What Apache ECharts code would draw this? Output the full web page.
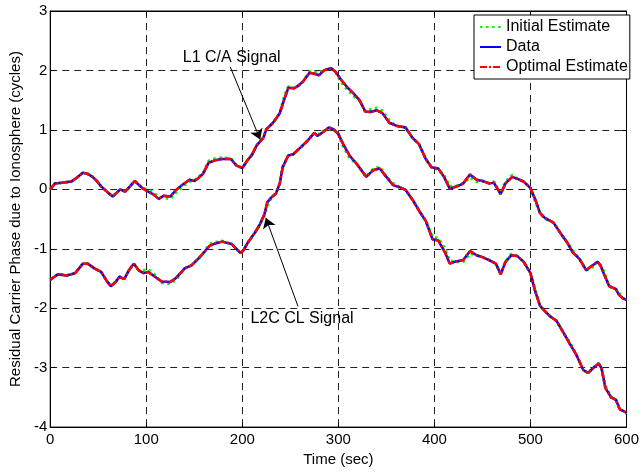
<!DOCTYPE html>
<html>
<head>
<meta charset="utf-8">
<script src="https://cdn.jsdelivr.net/npm/echarts@6/dist/echarts.min.js"></script>
<style>
  html, body { margin: 0; padding: 0; background: #fff; }
  #chart { width: 642px; height: 472px; }
</style>
</head>
<body>
<div id="chart"></div>
<script>
// Residual carrier phase (cycles) vs time (sec), L1 C/A and L2C CL signals
const l1Time = [0,5,12,22,28,34,39,44,48,53,59,65,69,73,78,83,88,92,96,101,107,113,118,125,131,138,145,150,155,159,165,172,179,188,194,200,205,210,215,222,225,232,239,244,248,254,258,263,270,276,280,285,292,297,302,309,316,322,328,333,340,346,353,360,370,377,384,391,397,404,410,416,425,430,437,444,450,457,462,469,474,481,486,493,500,505,510,515,524,531,538,544,551,558,563,570,573,577,582,589,592,596,600];
const l1Data = [0.00,0.10,0.11,0.13,0.20,0.28,0.26,0.21,0.15,0.05,-0.04,-0.12,-0.06,0.00,-0.04,0.05,0.14,0.08,0.02,-0.03,-0.08,-0.16,-0.11,-0.12,-0.01,0.08,0.16,0.14,0.20,0.26,0.45,0.49,0.51,0.51,0.40,0.36,0.48,0.58,0.74,0.87,1.01,1.12,1.28,1.53,1.71,1.70,1.74,1.81,1.96,1.94,1.92,2.00,2.04,1.98,1.86,1.72,1.61,1.50,1.31,1.30,1.33,1.28,1.12,1.07,1.04,0.87,0.76,0.51,0.37,0.35,0.21,0.01,0.06,0.10,0.25,0.16,0.14,0.10,0.11,-0.08,0.10,0.21,0.18,0.13,0.02,-0.17,-0.40,-0.48,-0.56,-0.73,-0.89,-1.06,-1.17,-1.36,-1.30,-1.22,-1.28,-1.44,-1.63,-1.68,-1.77,-1.83,-1.86];
const l1Initial = [0.00,0.10,0.11,0.13,0.20,0.28,0.26,0.21,0.15,0.05,-0.04,-0.12,-0.06,0.00,-0.04,0.05,0.14,0.08,0.02,0.00,-0.05,-0.13,-0.14,-0.16,-0.05,0.05,0.13,0.14,0.22,0.26,0.48,0.52,0.53,0.52,0.40,0.36,0.48,0.58,0.74,0.87,1.01,1.12,1.28,1.58,1.73,1.70,1.74,1.81,1.98,1.97,1.96,2.00,2.04,1.98,1.82,1.68,1.57,1.50,1.31,1.34,1.37,1.32,1.16,1.07,1.04,0.87,0.76,0.51,0.37,0.33,0.24,0.05,0.06,0.10,0.20,0.13,0.14,0.10,0.13,-0.08,0.13,0.24,0.18,0.13,0.02,-0.20,-0.40,-0.50,-0.56,-0.73,-0.89,-1.03,-1.17,-1.36,-1.33,-1.22,-1.28,-1.40,-1.63,-1.68,-1.74,-1.83,-1.88];

const l2Time = [0,8,17,26,34,39,46,53,58,63,68,72,77,82,87,92,97,102,109,116,125,131,140,147,154,159,166,172,179,189,198,201,206,213,218,223,226,230,235,239,242,246,248,253,261,268,275,278,283,290,295,300,305,312,319,329,336,343,350,357,363,370,377,384,391,398,404,411,416,421,430,437,444,450,457,464,469,474,480,486,493,500,505,510,515,520,527,534,541,548,555,560,565,571,574,578,584,589,593,597,600];
const l2Data = [-1.52,-1.43,-1.45,-1.41,-1.25,-1.25,-1.33,-1.39,-1.52,-1.63,-1.56,-1.47,-1.51,-1.36,-1.25,-1.36,-1.41,-1.39,-1.47,-1.55,-1.56,-1.49,-1.33,-1.28,-1.17,-1.08,-0.95,-0.91,-0.88,-0.92,-1.07,-1.03,-0.89,-0.73,-0.60,-0.42,-0.22,-0.14,-0.07,0.10,0.37,0.51,0.57,0.59,0.71,0.82,0.95,0.90,0.95,1.04,1.01,0.93,0.76,0.56,0.43,0.21,0.32,0.35,0.21,0.07,0.04,-0.01,-0.17,-0.36,-0.53,-0.84,-0.86,-1.06,-1.25,-1.22,-1.19,-1.04,-1.11,-1.14,-1.19,-1.25,-1.43,-1.22,-1.11,-1.12,-1.22,-1.41,-1.72,-1.96,-2.05,-2.13,-2.21,-2.40,-2.60,-2.79,-3.04,-3.09,-3.01,-2.93,-3.01,-3.34,-3.50,-3.54,-3.70,-3.73,-3.76];
const l2Initial = [-1.52,-1.43,-1.45,-1.41,-1.25,-1.25,-1.33,-1.39,-1.52,-1.63,-1.56,-1.47,-1.51,-1.36,-1.25,-1.36,-1.36,-1.35,-1.44,-1.57,-1.59,-1.52,-1.33,-1.28,-1.17,-1.08,-0.92,-0.89,-0.87,-0.92,-1.07,-1.03,-0.89,-0.73,-0.60,-0.44,-0.28,-0.14,-0.07,0.10,0.37,0.51,0.57,0.59,0.71,0.82,0.95,0.90,0.97,1.02,1.01,0.93,0.72,0.52,0.43,0.21,0.34,0.38,0.21,0.10,0.04,-0.01,-0.17,-0.36,-0.53,-0.80,-0.82,-1.00,-1.20,-1.22,-1.22,-1.08,-1.11,-1.14,-1.19,-1.25,-1.43,-1.22,-1.09,-1.12,-1.22,-1.41,-1.68,-1.96,-2.05,-2.13,-2.21,-2.40,-2.57,-2.79,-3.04,-3.09,-3.01,-2.93,-3.01,-3.30,-3.50,-3.54,-3.70,-3.73,-3.78];

const xTicks = { min: 0, max: 600, step: 100 };
const yTicks = { min: -4, max: 3, step: 1 };

// Annotation anchors in data units (time, cycles)
const l1Label = { text: 'L1 C/A Signal', at: [137.5, 2.22], from: [187.4, 2.06], to: [218.6, 0.84] };
const l2Label = { text: 'L2C CL Signal', at: [207.9, -2.18], from: [258.0, -1.97], to: [224.5, -0.48] };

const FONT = '"Liberation Sans", Arial, Helvetica, sans-serif';
const pairs = (t, v) => t.map((x, i) => [x, v[i]]);

const initialStyle = { color: '#00ff00', width: 3, type: [2.5, 3.5] };
const dataStyle = { color: '#0000ff', width: 2.5, type: 'solid' };
const optimalStyle = { color: '#ff0000', width: 2.5, type: [7, 2, 2, 2] };

function curve(name, points, style) {
  return {
    name: name,
    type: 'line',
    data: points,
    symbol: 'none',
    showSymbol: false,
    lineStyle: style,
    itemStyle: { color: style.color },
    emphasis: { disabled: true },
    silent: true
  };
}

const chart = echarts.init(document.getElementById('chart'), null, { renderer: 'canvas' });

const dashedGrid = { show: true, lineStyle: { color: '#222', width: 1, type: [7, 5] } };
const frameLine = { show: true, onZero: false, lineStyle: { color: '#000', width: 1 } };
const innerTick = { show: true, inside: true, length: 5, lineStyle: { color: '#000' } };

chart.setOption({
  animation: false,
  backgroundColor: '#fff',
  textStyle: { fontFamily: FONT },
  grid: { left: 45, top: 11, right: 11, bottom: 37, show: true, borderColor: '#000', borderWidth: 1, containLabel: false },
  legend: {
    data: ['Initial Estimate', 'Data', 'Optimal Estimate'],
    orient: 'vertical',
    left: 474,
    top: 15,
    padding: [4, 2, 4, 5],
    itemGap: 4,
    itemWidth: 21,
    itemHeight: 14,
    backgroundColor: '#fff',
    borderColor: '#000',
    borderWidth: 1,
    borderRadius: 0,
    selectedMode: false,
    itemStyle: { opacity: 0, borderWidth: 0 },
    textStyle: { fontFamily: FONT, fontSize: 16, color: '#000' }
  },
  xAxis: [{
    type: 'value',
    min: xTicks.min, max: xTicks.max, interval: xTicks.step,
    name: 'Time (sec)', nameLocation: 'middle', nameGap: 19,
    nameTextStyle: { fontFamily: FONT, fontSize: 15, color: '#000' },
    axisLine: frameLine,
    axisTick: innerTick,
    axisLabel: { fontFamily: FONT, fontSize: 15, color: '#000', margin: 5 },
    splitLine: dashedGrid
  }, {
    type: 'value', position: 'top',
    min: xTicks.min, max: xTicks.max, interval: xTicks.step,
    axisLine: frameLine,
    axisTick: innerTick,
    axisLabel: { show: false }, splitLine: { show: false }
  }],
  yAxis: [{
    type: 'value',
    min: yTicks.min, max: yTicks.max, interval: yTicks.step,
    name: 'Residual Carrier Phase due to Ionosphere (cycles)', nameLocation: 'middle', nameGap: 22,
    nameTextStyle: { fontFamily: FONT, fontSize: 15, color: '#000' },
    axisLine: frameLine,
    axisTick: innerTick,
    axisLabel: { fontFamily: FONT, fontSize: 15, color: '#000', margin: 3 },
    splitLine: dashedGrid
  }, {
    type: 'value', position: 'right',
    min: yTicks.min, max: yTicks.max, interval: yTicks.step,
    axisLine: frameLine,
    axisTick: innerTick,
    axisLabel: { show: false }, splitLine: { show: false }
  }],
  series: [
    curve('Initial Estimate', pairs(l1Time, l1Initial), initialStyle),
    curve('Initial Estimate', pairs(l2Time, l2Initial), initialStyle),
    curve('Data', pairs(l1Time, l1Data), dataStyle),
    curve('Data', pairs(l2Time, l2Data), dataStyle),
    // the optimal estimate follows the measured data to within the line width
    curve('Optimal Estimate', pairs(l1Time, l1Data), optimalStyle),
    curve('Optimal Estimate', pairs(l2Time, l2Data), optimalStyle),
    {
      name: 'annotations',
      type: 'line',
      data: [],
      silent: true,
      z: 5,
      markLine: {
        silent: true,
        symbol: ['none', 'arrow'],
        symbolSize: 10,
        label: { show: false },
        itemStyle: { color: '#000' },
        lineStyle: { color: '#000', width: 1, type: 'solid' },
        emphasis: { disabled: true },
        data: [
          [{ coord: l1Label.from }, { coord: l1Label.to }],
          [{ coord: l2Label.from }, { coord: l2Label.to }]
        ]
      },
      markPoint: {
        silent: true,
        symbol: 'rect',
        symbolSize: 1,
        itemStyle: { color: 'rgba(0,0,0,0)' },
        label: { show: true, position: 'right', distance: 0, color: '#000', fontFamily: FONT, fontSize: 16 },
        data: [
          { coord: l1Label.at, label: { formatter: l1Label.text } },
          { coord: l2Label.at, label: { formatter: l2Label.text } }
        ]
      }
    }
  ]
});
</script>
</body>
</html>
